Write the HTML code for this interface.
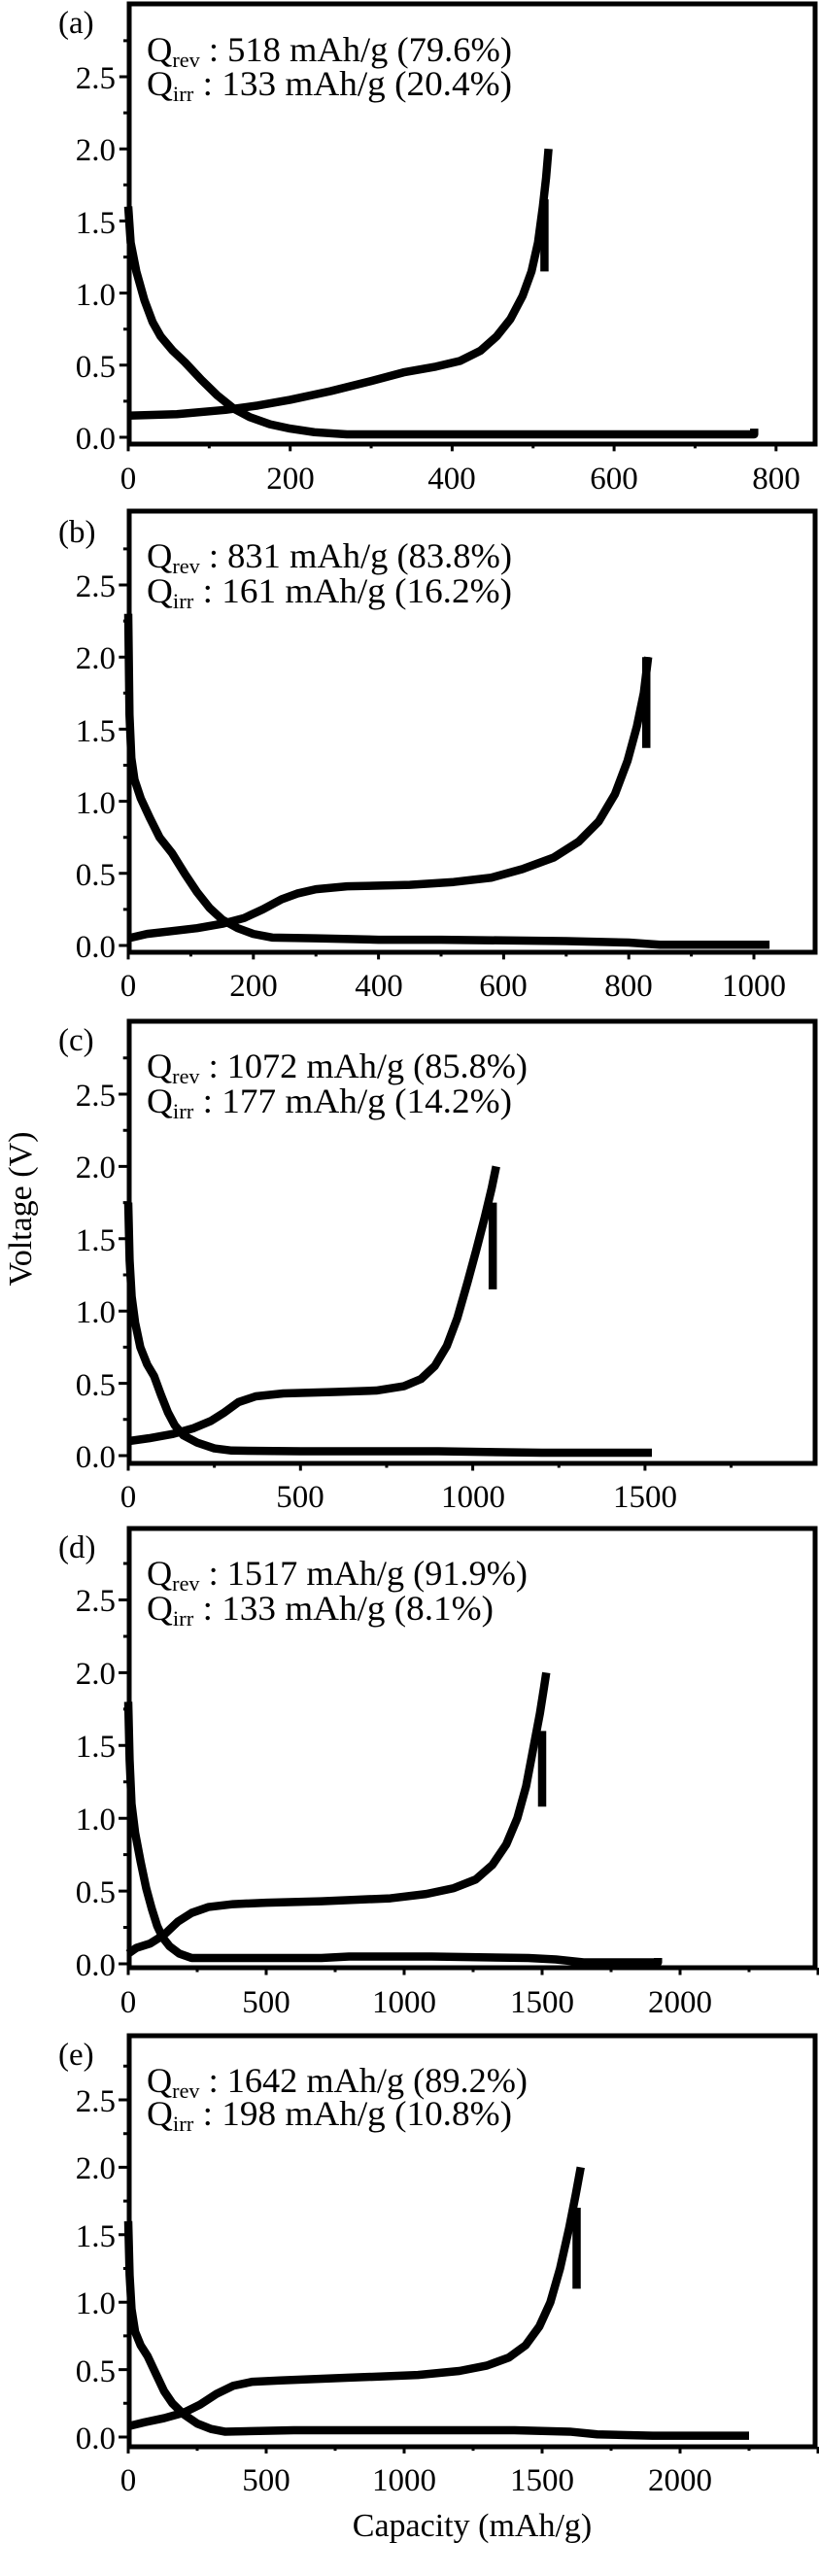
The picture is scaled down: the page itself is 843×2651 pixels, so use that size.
<!DOCTYPE html>
<html><head><meta charset="utf-8"><style>
html,body{margin:0;padding:0;background:#fff;}
svg{display:block;}
text{font-family:"Liberation Serif","Times New Roman",serif;}
.c{fill:none;stroke:#000;stroke-width:8.5;stroke-linejoin:round;stroke-linecap:butt;}
.t{fill:none;stroke:#000;stroke-width:3;}
.f{fill:none;stroke:#000;stroke-width:5;}
.tk{font-size:33px;fill:#000;font-family:"Liberation Serif",serif;}
.q{font-size:36px;fill:#000;font-family:"Liberation Serif",serif;}
.s{font-size:22px;}
</style></head><body>
<svg width="843" height="2651" viewBox="0 0 843 2651" xmlns="http://www.w3.org/2000/svg">

<!-- Panel a -->
<rect class="f" x="133" y="4" width="706" height="453"/>
<g transform="translate(132,450) scale(0.8335,-148.4)">
<path class="c" vector-effect="non-scaling-stroke" d="M0 1.6 L3 1.35 L10 1.15 L20 0.95 L30 0.8 L40 0.7 L55 0.6 L70 0.52 L90 0.4 L110 0.29 L130 0.2 L150 0.14 L175 0.09 L200 0.06 L230 0.035 L270 0.02 L400 0.02 L600 0.02 L773 0.02 L773 0.06"/>
<path class="c" vector-effect="non-scaling-stroke" d="M0 0.15 L60 0.16 L120 0.19 L160 0.22 L200 0.26 L250 0.32 L300 0.39 L340 0.45 L380 0.49 L410 0.53 L435 0.6 L455 0.7 L472 0.82 L487 0.98 L498 1.15 L506 1.35 L512 1.6 L516 1.8 L519 2.0"/>
<path class="c" vector-effect="non-scaling-stroke" d="M514 1.15 L514 1.65"/>
<path class="t" vector-effect="non-scaling-stroke" d="M0 -0.047 v-0.05 M200 -0.047 v-0.05 M400 -0.047 v-0.05 M600 -0.047 v-0.05 M800 -0.047 v-0.05 M100 -0.047 v-0.03 M300 -0.047 v-0.03 M500 -0.047 v-0.03 M700 -0.047 v-0.03"/>
<path class="t" vector-effect="non-scaling-stroke" d="M0 0 h-11 M0 0.5 h-11 M0 1 h-11 M0 1.5 h-11 M0 2 h-11 M0 2.5 h-11 M0 0.25 h-6 M0 0.75 h-6 M0 1.25 h-6 M0 1.75 h-6 M0 2.25 h-6 M0 2.75 h-6"/>
</g>
<text class="tk" x="60" y="34">(a)</text>
<g class="tk" text-anchor="end"><text x="119" y="462">0.0</text><text x="119" y="388">0.5</text><text x="119" y="314">1.0</text><text x="119" y="240">1.5</text><text x="119" y="165">2.0</text><text x="119" y="91">2.5</text></g>
<g class="tk" text-anchor="middle"><text x="132" y="503">0</text><text x="299" y="503">200</text><text x="465" y="503">400</text><text x="632" y="503">600</text><text x="799" y="503">800</text></g>
<text class="q" x="151" y="63" textLength="376" lengthAdjust="spacingAndGlyphs">Q<tspan class="s" dy="6">rev</tspan><tspan dy="-6"> : 518 mAh/g (79.6%)</tspan></text>
<text class="q" x="151" y="98" textLength="376" lengthAdjust="spacingAndGlyphs">Q<tspan class="s" dy="6">irr</tspan><tspan dy="-6">  : 133 mAh/g (20.4%)</tspan></text>

<!-- Panel b -->
<rect class="f" x="133" y="526" width="706" height="454"/>
<g transform="translate(132,973) scale(0.644,-148.4)">
<path class="c" vector-effect="non-scaling-stroke" d="M0 2.3 L2 1.6 L5 1.3 L10 1.15 L20 1.02 L35 0.88 L50 0.75 L70 0.64 L90 0.5 L110 0.37 L130 0.26 L150 0.18 L175 0.12 L200 0.08 L230 0.055 L300 0.05 L400 0.04 L500 0.04 L600 0.035 L700 0.03 L800 0.02 L850 0.005 L1025 0.005"/>
<path class="c" vector-effect="non-scaling-stroke" d="M0 0.05 L30 0.08 L70 0.1 L110 0.12 L150 0.15 L185 0.19 L215 0.25 L245 0.32 L270 0.36 L300 0.39 L350 0.41 L450 0.42 L520 0.44 L580 0.47 L630 0.53 L680 0.61 L720 0.72 L752 0.86 L778 1.05 L798 1.28 L813 1.52 L824 1.75 L831 2.0"/>
<path class="c" vector-effect="non-scaling-stroke" d="M828 1.37 L828 2.0"/>
<path class="t" vector-effect="non-scaling-stroke" d="M0 -0.047 v-0.05 M200 -0.047 v-0.05 M400 -0.047 v-0.05 M600 -0.047 v-0.05 M800 -0.047 v-0.05 M1000 -0.047 v-0.05 M100 -0.047 v-0.03 M300 -0.047 v-0.03 M500 -0.047 v-0.03 M700 -0.047 v-0.03 M900 -0.047 v-0.03"/>
<path class="t" vector-effect="non-scaling-stroke" d="M0 0 h-15 M0 0.5 h-15 M0 1 h-15 M0 1.5 h-15 M0 2 h-15 M0 2.5 h-15 M0 0.25 h-8 M0 0.75 h-8 M0 1.25 h-8 M0 1.75 h-8 M0 2.25 h-8 M0 2.75 h-8"/>
</g>
<text class="tk" x="60" y="558">(b)</text>
<g class="tk" text-anchor="end"><text x="119" y="985">0.0</text><text x="119" y="911">0.5</text><text x="119" y="837">1.0</text><text x="119" y="763">1.5</text><text x="119" y="688">2.0</text><text x="119" y="614">2.5</text></g>
<g class="tk" text-anchor="middle"><text x="132" y="1025">0</text><text x="261" y="1025">200</text><text x="390" y="1025">400</text><text x="518" y="1025">600</text><text x="647" y="1025">800</text><text x="776" y="1025">1000</text></g>
<text class="q" x="151" y="584" textLength="376" lengthAdjust="spacingAndGlyphs">Q<tspan class="s" dy="6">rev</tspan><tspan dy="-6"> : 831 mAh/g (83.8%)</tspan></text>
<text class="q" x="151" y="620" textLength="376" lengthAdjust="spacingAndGlyphs">Q<tspan class="s" dy="6">irr</tspan><tspan dy="-6">  : 161 mAh/g (16.2%)</tspan></text>

<!-- Panel c -->
<rect class="f" x="133" y="1051" width="706" height="455"/>
<g transform="translate(132,1498) scale(0.3546,-148.8)">
<path class="c" vector-effect="non-scaling-stroke" d="M0 1.75 L4 1.35 L10 1.1 L20 0.92 L35 0.75 L55 0.63 L75 0.55 L95 0.42 L115 0.3 L135 0.21 L160 0.14 L200 0.09 L250 0.05 L300 0.035 L500 0.03 L700 0.03 L900 0.03 L1200 0.02 L1520 0.02"/>
<path class="c" vector-effect="non-scaling-stroke" d="M0 0.1 L60 0.12 L130 0.15 L190 0.19 L240 0.24 L280 0.3 L320 0.37 L370 0.41 L450 0.43 L600 0.44 L720 0.45 L800 0.48 L850 0.53 L890 0.62 L925 0.76 L955 0.95 L985 1.2 L1010 1.42 L1035 1.65 L1055 1.85 L1068 2.0"/>
<path class="c" vector-effect="non-scaling-stroke" d="M1058 1.15 L1058 1.75"/>
<path class="t" vector-effect="non-scaling-stroke" d="M0 -0.054 v-0.05 M500 -0.054 v-0.05 M1000 -0.054 v-0.05 M1500 -0.054 v-0.05 M250 -0.054 v-0.03 M750 -0.054 v-0.03 M1250 -0.054 v-0.03 M1750 -0.054 v-0.03"/>
<path class="t" vector-effect="non-scaling-stroke" d="M0 0 h-28 M0 0.5 h-28 M0 1 h-28 M0 1.5 h-28 M0 2 h-28 M0 2.5 h-28 M0 0.25 h-15 M0 0.75 h-15 M0 1.25 h-15 M0 1.75 h-15 M0 2.25 h-15 M0 2.75 h-15"/>
</g>
<text class="tk" x="60" y="1081">(c)</text>
<g class="tk" text-anchor="end"><text x="119" y="1510">0.0</text><text x="119" y="1436">0.5</text><text x="119" y="1361">1.0</text><text x="119" y="1287">1.5</text><text x="119" y="1212">2.0</text><text x="119" y="1138">2.5</text></g>
<g class="tk" text-anchor="middle"><text x="132" y="1551">0</text><text x="309" y="1551">500</text><text x="487" y="1551">1000</text><text x="664" y="1551">1500</text></g>
<text class="q" x="151" y="1109" textLength="392" lengthAdjust="spacingAndGlyphs">Q<tspan class="s" dy="6">rev</tspan><tspan dy="-6"> : 1072 mAh/g (85.8%)</tspan></text>
<text class="q" x="151" y="1145" textLength="376" lengthAdjust="spacingAndGlyphs">Q<tspan class="s" dy="6">irr</tspan><tspan dy="-6">  : 177 mAh/g (14.2%)</tspan></text>

<!-- Panel d -->
<rect class="f" x="133" y="1573" width="706" height="452"/>
<g transform="translate(132,2021) scale(0.284,-149.8)">
<path class="c" vector-effect="non-scaling-stroke" d="M0 1.8 L5 1.4 L12 1.1 L25 0.9 L45 0.7 L65 0.52 L85 0.38 L105 0.26 L125 0.18 L150 0.12 L185 0.07 L230 0.04 L400 0.04 L700 0.04 L800 0.05 L1100 0.05 L1450 0.04 L1550 0.03 L1650 0.01 L1920 0.01 L1920 0.04"/>
<path class="c" vector-effect="non-scaling-stroke" d="M0 0.07 L30 0.11 L80 0.14 L130 0.2 L180 0.29 L230 0.35 L290 0.39 L380 0.41 L500 0.42 L700 0.43 L950 0.45 L1080 0.48 L1180 0.52 L1260 0.58 L1320 0.68 L1370 0.82 L1410 1.0 L1442 1.22 L1468 1.48 L1492 1.72 L1507 1.9 L1515 2.0"/>
<path class="c" vector-effect="non-scaling-stroke" d="M1500 1.08 L1500 1.6"/>
<path class="t" vector-effect="non-scaling-stroke" d="M0 -0.027 v-0.05 M500 -0.027 v-0.05 M1000 -0.027 v-0.05 M1500 -0.027 v-0.05 M2000 -0.027 v-0.05 M2500 -0.027 v-0.05 M250 -0.027 v-0.03 M750 -0.027 v-0.03 M1250 -0.027 v-0.03 M1750 -0.027 v-0.03 M2250 -0.027 v-0.03"/>
<path class="t" vector-effect="non-scaling-stroke" d="M0 0 h-35 M0 0.5 h-35 M0 1 h-35 M0 1.5 h-35 M0 2 h-35 M0 2.5 h-35 M0 0.25 h-18 M0 0.75 h-18 M0 1.25 h-18 M0 1.75 h-18 M0 2.25 h-18 M0 2.75 h-18"/>
</g>
<text class="tk" x="60" y="1603">(d)</text>
<g class="tk" text-anchor="end"><text x="119" y="2033">0.0</text><text x="119" y="1958">0.5</text><text x="119" y="1883">1.0</text><text x="119" y="1808">1.5</text><text x="119" y="1733">2.0</text><text x="119" y="1658">2.5</text></g>
<g class="tk" text-anchor="middle"><text x="132" y="2071">0</text><text x="274" y="2071">500</text><text x="416" y="2071">1000</text><text x="558" y="2071">1500</text><text x="700" y="2071">2000</text></g>
<text class="q" x="151" y="1631" textLength="392" lengthAdjust="spacingAndGlyphs">Q<tspan class="s" dy="6">rev</tspan><tspan dy="-6"> : 1517 mAh/g (91.9%)</tspan></text>
<text class="q" x="151" y="1667" textLength="357" lengthAdjust="spacingAndGlyphs">Q<tspan class="s" dy="6">irr</tspan><tspan dy="-6">  : 133 mAh/g (8.1%)</tspan></text>

<!-- Panel e -->
<rect class="f" x="133" y="2095" width="706" height="423"/>
<g transform="translate(132,2508) scale(0.284,-138.8)">
<path class="c" vector-effect="non-scaling-stroke" d="M0 1.6 L5 1.2 L12 0.95 L25 0.78 L45 0.68 L70 0.6 L100 0.47 L130 0.34 L160 0.25 L200 0.17 L250 0.1 L300 0.06 L350 0.04 L600 0.05 L1000 0.05 L1400 0.05 L1600 0.04 L1700 0.02 L1900 0.01 L2250 0.01"/>
<path class="c" vector-effect="non-scaling-stroke" d="M0 0.08 L60 0.11 L130 0.14 L200 0.18 L260 0.24 L320 0.32 L380 0.38 L450 0.41 L550 0.42 L800 0.44 L1050 0.46 L1200 0.49 L1300 0.53 L1380 0.59 L1440 0.68 L1490 0.82 L1530 1.0 L1565 1.25 L1598 1.55 L1622 1.8 L1640 2.0"/>
<path class="c" vector-effect="non-scaling-stroke" d="M1625 1.1 L1625 1.7"/>
<path class="t" vector-effect="non-scaling-stroke" d="M0 -0.072 v-0.05 M500 -0.072 v-0.05 M1000 -0.072 v-0.05 M1500 -0.072 v-0.05 M2000 -0.072 v-0.05 M2500 -0.072 v-0.05 M250 -0.072 v-0.03 M750 -0.072 v-0.03 M1250 -0.072 v-0.03 M1750 -0.072 v-0.03 M2250 -0.072 v-0.03"/>
<path class="t" vector-effect="non-scaling-stroke" d="M0 0 h-35 M0 0.5 h-35 M0 1 h-35 M0 1.5 h-35 M0 2 h-35 M0 2.5 h-35 M0 0.25 h-18 M0 0.75 h-18 M0 1.25 h-18 M0 1.75 h-18 M0 2.25 h-18 M0 2.75 h-18"/>
</g>
<text class="tk" x="60" y="2125">(e)</text>
<g class="tk" text-anchor="end"><text x="119" y="2520">0.0</text><text x="119" y="2451">0.5</text><text x="119" y="2381">1.0</text><text x="119" y="2312">1.5</text><text x="119" y="2242">2.0</text><text x="119" y="2173">2.5</text></g>
<g class="tk" text-anchor="middle"><text x="132" y="2563">0</text><text x="274" y="2563">500</text><text x="416" y="2563">1000</text><text x="558" y="2563">1500</text><text x="700" y="2563">2000</text></g>
<text class="q" x="151" y="2153" textLength="392" lengthAdjust="spacingAndGlyphs">Q<tspan class="s" dy="6">rev</tspan><tspan dy="-6"> : 1642 mAh/g (89.2%)</tspan></text>
<text class="q" x="151" y="2187" textLength="376" lengthAdjust="spacingAndGlyphs">Q<tspan class="s" dy="6">irr</tspan><tspan dy="-6">  : 198 mAh/g (10.8%)</tspan></text>

<!-- axis titles -->
<text x="486" y="2610" text-anchor="middle" style="font-size:34px;font-family:'Liberation Serif',serif">Capacity (mAh/g)</text>
<text transform="translate(32,1244) rotate(-90)" text-anchor="middle" style="font-size:34px;font-family:'Liberation Serif',serif">Voltage (V)</text>
</svg>
</body></html>
